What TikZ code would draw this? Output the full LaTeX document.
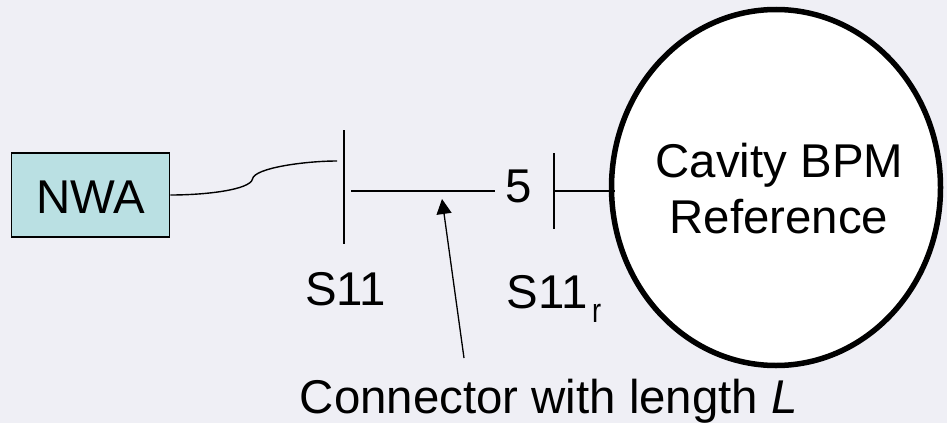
\documentclass[tikz,border=0pt]{standalone}
\usepackage{fontspec}
\setmainfont{Liberation Sans}
\usetikzlibrary{arrows.meta,shapes.geometric}
\definecolor{bgc}{HTML}{EFEFF5}
\definecolor{boxc}{HTML}{BAE0E3}
\tikzset{
  lbl/.style={font=\fontsize{47.4}{56}\selectfont, inner sep=0pt, anchor=base, text=black},
  wire/.style={draw=black, line width=1.7pt},
  thin wire/.style={draw=black, line width=1.4pt},
  pointer/.style={draw=black, line width=1.3pt, -{Triangle[length=15pt,width=15pt]}}
}
\begin{document}
\begin{tikzpicture}[x=1pt,y=-1pt]
\useasboundingbox (0,0) rectangle (947,423);
\fill[bgc] (0,0) rectangle (947,423);
% reference node
\node[draw=black, line width=5.5pt, fill=white, ellipse, inner sep=0pt, minimum width=329pt, minimum height=356pt] (cav) at (776,187.5) {};
\node[lbl] (cavt1) at (779.5,177) {Cavity BPM};
\node[lbl] (cavt2) at (779,233) {Reference};
% NWA
\node[draw=black, line width=1.7pt, fill=boxc, minimum width=158pt, minimum height=84pt, inner sep=0pt] (nwa) at (90.5,195) {};
\node[lbl] (nwat) at (91,213) {NWA};
% planes
\coordinate (p1t) at (344,130); \coordinate (p1b) at (344,244);
\coordinate (p2t) at (554,153); \coordinate (p2b) at (554,229);
\draw[wire] (p1t) -- (p1b);
\draw[thin wire] (p2t) -- (p2b);
% connectors
\coordinate (ce) at (337,161);
\draw[thin wire] (nwa.east) .. controls (205,195) and (250,190) .. (252.5,179)
   .. controls (254,168) and (305,161) .. (ce);
\coordinate (l1) at (351,191); \coordinate (l2) at (495,191);
\draw[thin wire] (l1) -- (l2);
\node[lbl] (five) at (518.5,202) {5};
\coordinate (l3) at (554,191); \coordinate (l4) at (615,191);
\draw[thin wire] (l3) -- (l4);
% labels
\node[lbl] (s11) at (345.5,305) {S11};
\node[lbl,anchor=base west] (s11r) at (506.5,308) {S11};
\node[inner sep=0pt,anchor=base west,font=\fontsize{34}{38}\selectfont] (rsub) at (592,322) {\scalebox{0.8}[1]{r}};
\node[lbl,anchor=base east] (conn) at (798,413) {Connector with length \textit{L}};
\coordinate (ptail) at (464,358); \coordinate (ptip) at (442,199);
\draw[pointer] (ptail) -- (ptip);
\end{tikzpicture}
\end{document}
